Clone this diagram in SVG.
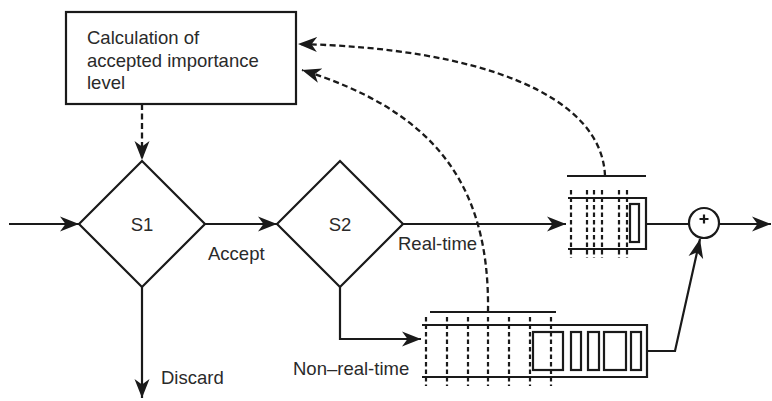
<svg xmlns="http://www.w3.org/2000/svg" width="772" height="401" viewBox="0 0 772 401">
  <style>
    .ln { fill: none; stroke: #1a1a1a; stroke-width: 2.2; }
    .dash { fill: none; stroke: #1a1a1a; stroke-width: 2.3; stroke-dasharray: 6 3.5; }
    .qdash { fill: none; stroke: #1a1a1a; stroke-width: 2.2; stroke-dasharray: 4.5 3; }
    .shape { fill: #fff; stroke: #1a1a1a; stroke-width: 2.2; }
    .txt { font-family: "Liberation Sans", Arial, sans-serif; font-size: 18.5px; fill: #2a2a2a; }
  </style>
  <defs>
    <marker id="arrow" markerUnits="userSpaceOnUse" markerWidth="22" markerHeight="18" refX="19" refY="7.5" orient="auto" viewBox="0 0 22 15">
      <path d="M0,0 L19,7.5 L0,15 L5.5,7.5 Z" fill="#1a1a1a"/>
    </marker>
  </defs>

  <!-- calculation box -->
  <g id="calc">
    <rect class="shape" x="66" y="12" width="230" height="92"/>
    <text class="txt" x="87" y="44">Calculation of</text>
    <text class="txt" x="87" y="67">accepted importance</text>
    <text class="txt" x="87" y="89">level</text>
  </g>

  <!-- decision S1 -->
  <g id="s1">
    <polygon class="shape" points="142,161 205,224 142,287 79,224"/>
    <text class="txt" x="142" y="231" text-anchor="middle">S1</text>
  </g>

  <!-- decision S2 -->
  <g id="s2">
    <polygon class="shape" points="340,161 403,224 340,287 277,224"/>
    <text class="txt" x="340" y="231" text-anchor="middle">S2</text>
  </g>

  <!-- real-time queue -->
  <g id="rt-queue">
    <line class="ln" x1="567" y1="176" x2="646" y2="176"/>
    <path class="ln" d="M568,198 H646 V249 H568"/>
    <rect class="ln" x="630" y="204" width="9" height="38"/>
    <g class="qdash">
      <line x1="571" y1="190" x2="571" y2="258"/>
      <line x1="587" y1="190" x2="587" y2="258"/>
      <line x1="594" y1="190" x2="594" y2="258"/>
      <line x1="602" y1="190" x2="602" y2="258"/>
      <line x1="619" y1="190" x2="619" y2="258"/>
      <line x1="627" y1="190" x2="627" y2="258"/>
    </g>
  </g>

  <!-- non-real-time queue -->
  <g id="nrt-queue">
    <line class="ln" x1="430" y1="312" x2="556" y2="312"/>
    <path class="ln" d="M422,325 H647 V377 H422"/>
    <rect class="ln" x="533" y="332" width="30" height="38"/>
    <rect class="ln" x="571" y="332" width="10" height="38"/>
    <rect class="ln" x="588" y="332" width="11" height="38"/>
    <rect class="ln" x="604" y="332" width="22" height="38"/>
    <rect class="ln" x="631" y="332" width="10" height="38"/>
    <g class="qdash">
      <line x1="426" y1="317" x2="426" y2="386"/>
      <line x1="447" y1="317" x2="447" y2="386"/>
      <line x1="468" y1="317" x2="468" y2="386"/>
      <line x1="488" y1="317" x2="488" y2="386"/>
      <line x1="509" y1="317" x2="509" y2="386"/>
      <line x1="530" y1="317" x2="530" y2="386"/>
      <line x1="551" y1="317" x2="551" y2="386"/>
    </g>
  </g>

  <!-- summing junction -->
  <g id="sum">
    <circle class="shape" cx="704" cy="223" r="15"/>
    <path class="ln" d="M699.5,219 H708.5 M704,214.5 V223.5" stroke-width="2.4"/>
  </g>

  <!-- connectors -->
  <g id="connectors">
    <line class="ln" x1="9" y1="224" x2="79" y2="224" marker-end="url(#arrow)"/>
    <line class="ln" x1="205" y1="224" x2="277" y2="224" marker-end="url(#arrow)"/>
    <line class="ln" x1="142" y1="287" x2="142" y2="398" marker-end="url(#arrow)"/>
    <line class="ln" x1="403" y1="224" x2="566" y2="224" marker-end="url(#arrow)"/>
    <path class="ln" d="M340,287 V339 H421" marker-end="url(#arrow)"/>
    <line class="ln" x1="646" y1="224" x2="689" y2="224"/>
    <line class="ln" x1="719" y1="224" x2="771" y2="224" marker-end="url(#arrow)"/>
    <path class="ln" d="M647,351 H675 L700,239" marker-end="url(#arrow)"/>
    <line class="dash" x1="142" y1="104" x2="142" y2="160" marker-end="url(#arrow)"/>
    <path class="dash" d="M605,176 C602,95 480,48 298,44" marker-end="url(#arrow)"/>
    <path class="dash" d="M488,312 C490,180 430,110 302,70" marker-end="url(#arrow)"/>
  </g>

  <!-- branch labels -->
  <g id="labels">
    <text class="txt" x="208" y="260">Accept</text>
    <text class="txt" x="161" y="384">Discard</text>
    <text class="txt" x="398" y="250">Real-time</text>
    <text class="txt" x="293" y="375">Non–real-time</text>
  </g>
</svg>
